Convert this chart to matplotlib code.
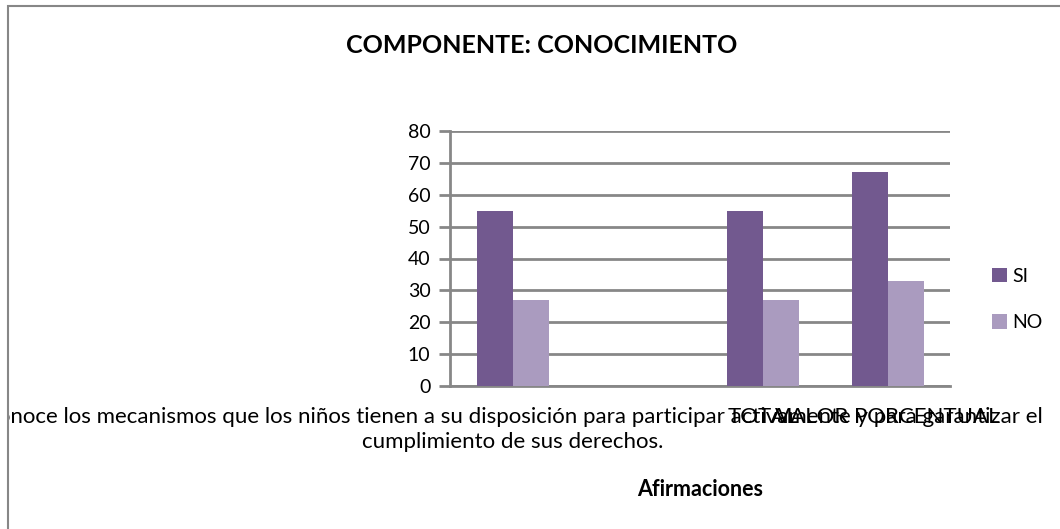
import numpy as np
import matplotlib
matplotlib.use('Agg')
import matplotlib.pyplot as plt
from matplotlib.patches import Rectangle
from matplotlib.transforms import Bbox, TransformedBbox

plt.rcParams['font.family'] = ['Lato', 'DejaVu Sans']

categorias = ['Conoce los mecanismos que los niños tienen a su disposición para participar activamente y para garantizar el\n'
              'cumplimiento de sus derechos.',
              '', 'TOTAL', 'VALOR PORCENTUAL']
si = [55, np.nan, 55, 67]
no = [27, np.nan, 27, 33]

color_si = '#72598f'
color_no = '#aa9bbf'
gris = '#878787'

fig = plt.figure(figsize=(10.6, 5.29), dpi=100)
ax = fig.add_axes([450 / 1060, 1 - 386 / 529, 500 / 1060, 255 / 529])

x = np.arange(len(categorias))
w = 0.288
ax.bar(x - w / 2, si, w, color=color_si, label='SI', zorder=3)
ax.bar(x + w / 2, no, w, color=color_no, label='NO', zorder=3)

ax.set_xlim(-0.5, len(categorias) - 0.5)
ax.set_ylim(0, 80)
ax.set_yticks(range(0, 81, 10))
ax.yaxis.grid(True, color=gris, linewidth=2, zorder=0)
ax.tick_params(axis='y', length=8, width=2, color=gris, labelsize=14, pad=6)
ax.tick_params(axis='x', length=0, labelsize=16, pad=15)
for s in ['top', 'right']:
    ax.spines[s].set_visible(False)
for s in ['left', 'bottom']:
    ax.spines[s].set_color(gris)
    ax.spines[s].set_linewidth(2)

ax.set_xticks(x)
labels = ax.set_xticklabels(categorias, linespacing=1.3)

# the long label is cut by the chart frame on the left
clip = TransformedBbox(Bbox.from_extents(9 / 1060, 0, 1, 1), fig.transFigure)
labels[0].set_clip_on(True)
labels[0].set_clip_box(clip)

ax.set_xlabel('Afirmaciones', fontsize=15.5, fontweight='bold', labelpad=20)

fig.text(542 / 1060, 1 - 46 / 529, 'COMPONENTE: CONOCIMIENTO', ha='center', va='center',
         fontsize=18, fontweight='bold')

ax.legend(loc='center left', bbox_to_anchor=(1.048, 0.34), frameon=False, fontsize=14,
          handlelength=0.8, handleheight=0.8, handletextpad=0.25, labelspacing=1.5)

fig.patches.append(Rectangle((8 / 1060, -0.1), 1.2, 1 - 6 / 529 + 0.1, transform=fig.transFigure,
                             fill=False, edgecolor=gris, linewidth=1.5))

fig.savefig('out.png', dpi=100)
